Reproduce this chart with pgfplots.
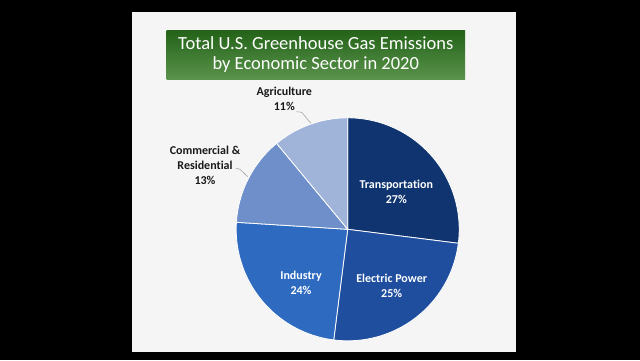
\documentclass[border=0pt]{standalone}
\usepackage{pgfplots}
\usepackage{pgfplotstable}
\pgfplotsset{compat=1.18}
\usepackage{fontspec}
\setmainfont{Carlito}[Ligatures={NoCommon}]
\definecolor{c0}{HTML}{0F3470}
\definecolor{c1}{HTML}{1F4E9E}
\definecolor{c2}{HTML}{2E6BC0}
\definecolor{c3}{HTML}{6E8FC9}
\definecolor{c4}{HTML}{A0B4DA}
\definecolor{gtop}{HTML}{236218}
\definecolor{gbot}{HTML}{5A934B}
\definecolor{panel}{HTML}{F5F5F5}
\definecolor{leader}{HTML}{A6A6A6}
\pgfplotstableread{
sector value
Transportation 27
ElectricPower 25
Industry 24
Commercial 13
Agriculture 11
}\datatable
\begin{document}
\begin{tikzpicture}[x=1pt,y=1pt]
\fill[black] (0,0) rectangle (640,360);
\fill[panel] (132,8) rectangle (516,348);
\shade[top color=gtop, bottom color=gbot] (166.7,330) rectangle (465,281);
\node[text=white, align=center, font=\fontsize{18.5}{20.5}\selectfont] at (315.8,305.5) {Total U.S. Greenhouse Gas Emissions\\by Economic Sector in 2020};
\begin{axis}[at={(236.2pt,19.2pt)}, anchor=south west, width=223pt, height=223pt,
  scale only axis, xmin=-1, xmax=1, ymin=-1, ymax=1, hide axis, clip=false]
\pgfmathsetmacro\start{90}
\pgfplotsforeachungrouped \i in {0,...,4}{%
  \pgfplotstablegetelem{\i}{value}\of\datatable
  \pgfmathsetmacro\stop{\start-3.6*\pgfplotsretval}
  \edef\cmd{\noexpand\addplot[fill=c\i, draw=white, line width=0.8pt, domain=\stop:\start, samples=90] ({cos(x)},{sin(x)}) -- (axis cs:0,0) -- cycle;}
  \cmd
  \let\start\stop
}
\end{axis}
\begin{scope}[every node/.style={align=center, font=\bfseries\fontsize{12}{15}\selectfont}]
\node[text=white] at (396.3,168.5) {Transportation\\27\%};
\node[text=white] at (391.7,74) {Electric Power\\25\%};
\node[text=white] at (301,76.7) {Industry\\24\%};
\node[text=black!90] at (205,195) {Commercial \&\\Residential\\13\%};
\node[text=black!90] at (284.3,261) {Agriculture\\11\%};
\end{scope}
\draw[leader, line width=0.6pt] (296.7,248.3) -- (301.7,247.7) -- (311,236.7);
\draw[leader, line width=0.6pt] (236,191.7) -- (240,190.7) -- (247.7,183.3);
\end{tikzpicture}
\end{document}
